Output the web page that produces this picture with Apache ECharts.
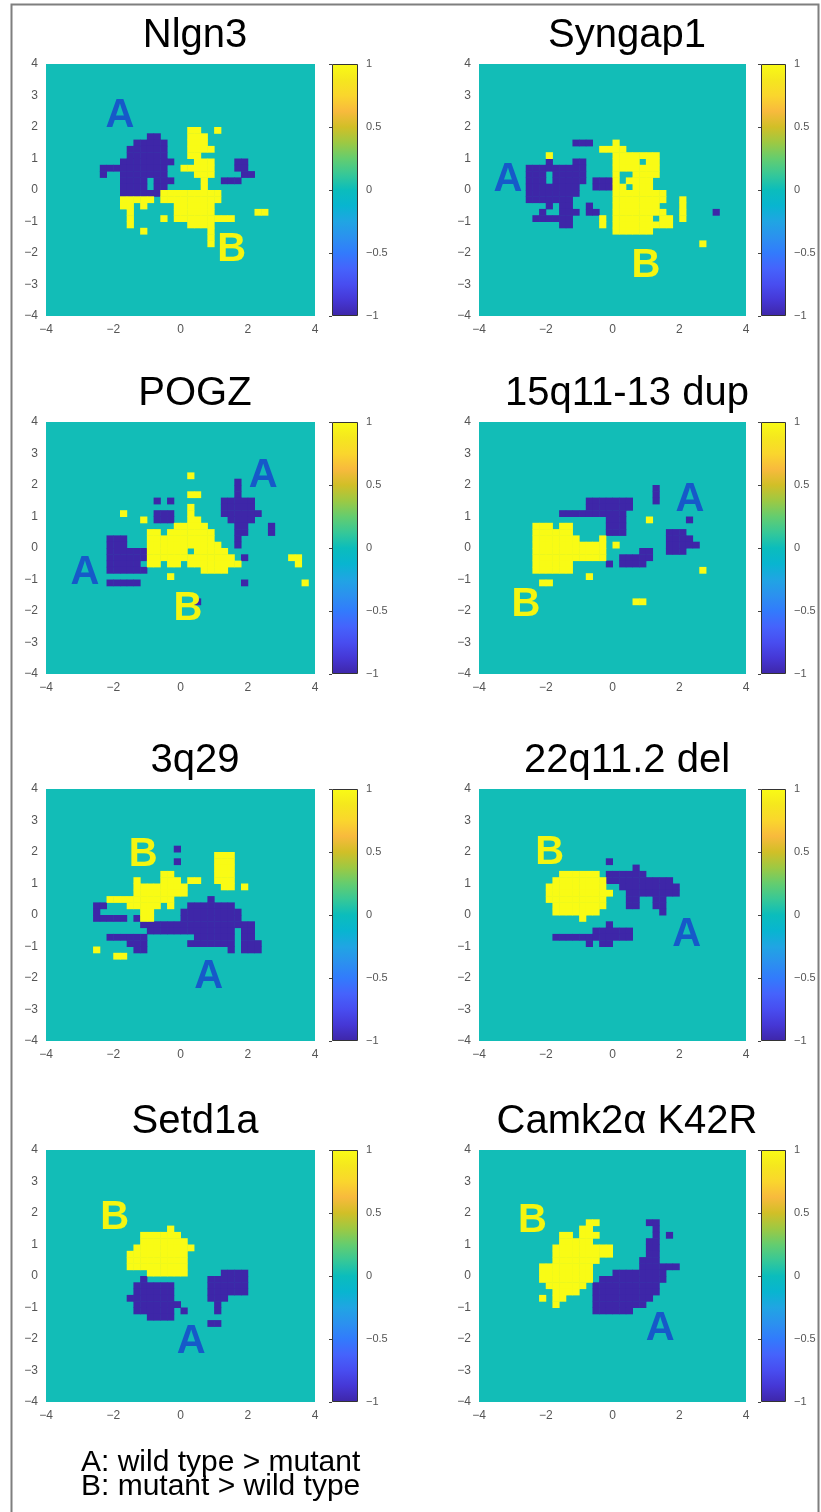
<!DOCTYPE html>
<html><head><meta charset="utf-8">
<script src="https://cdn.jsdelivr.net/npm/echarts@6/dist/echarts.min.js"></script>
<style>html,body{margin:0;padding:0;background:#fff}#c{width:821px;height:1512px}</style>
</head><body><div id="c"></div>
<script>
// ---------- data ----------
const titles = ['Nlgn3', 'Syngap1', 'POGZ', '15q11-13 dup', '3q29', '22q11.2 del', 'Setd1a', 'Camk2α K42R'];
const xTicks = [-4, -2, 0, 2, 4];
const yTicks = [-4, -3, -2, -1, 0, 1, 2, 3, 4];
const barTicks = [-1, -0.5, 0, 0.5, 1];
const bottomNotes = ['A: wild type > mutant', 'B: mutant > wild type'];
// grid cells: [row from top, first column, last column], 40x40 cells of 0.2 over [-4,4]
const nlgn3A = [[11,15,16],[12,13,17],[13,12,17],[14,12,17],[15,11,18],[15,28,29],[16,8,17],[16,28,29],[17,8,8],[17,11,17],[17,29,30],[18,11,14],[18,16,18],[18,26,28],[19,11,14],[19,16,17],[20,11,16]];
const nlgn3B = [[10,21,22],[10,25,25],[11,21,23],[12,21,23],[13,21,24],[14,21,22],[15,22,24],[16,20,24],[17,22,24],[18,23,23],[19,23,23],[20,17,25],[21,11,15],[21,17,25],[22,11,12],[22,14,14],[22,19,24],[23,12,12],[23,19,24],[23,31,32],[24,12,12],[24,17,17],[24,19,27],[25,12,12],[25,21,24],[26,14,14],[26,24,24],[27,24,24],[28,24,24]];
const nlgn3Letters = [['A', -1.8, 2.35], ['B', 1.52, -1.89]];
const syngap1A = [[12,14,16],[15,10,10],[15,14,15],[16,7,15],[17,7,9],[17,11,15],[18,7,9],[18,11,15],[18,17,19],[19,7,14],[19,17,19],[20,7,14],[21,7,13],[22,10,10],[22,12,13],[22,16,16],[23,9,9],[23,12,14],[23,16,17],[23,35,35],[24,8,13],[25,12,13]];
const syngap1B = [[12,20,20],[13,18,21],[14,10,10],[14,20,26],[15,20,23],[15,25,26],[16,20,26],[17,20,20],[17,23,26],[18,20,20],[18,22,25],[19,20,21],[19,23,25],[20,20,27],[21,20,27],[21,30,30],[22,20,26],[22,30,30],[23,20,27],[23,30,30],[24,18,18],[24,20,25],[24,27,28],[24,30,30],[25,18,18],[25,20,28],[26,20,25],[28,33,33]];
const syngap1Letters = [['A', -3.13, 0.33], ['B', 1.0, -2.42]];
const pogzA = [[9,28,28],[10,28,28],[11,28,28],[12,16,16],[12,18,18],[12,26,30],[13,26,30],[14,16,18],[14,26,31],[15,16,18],[15,27,30],[16,28,29],[16,33,33],[17,28,29],[17,33,33],[18,9,11],[18,28,28],[19,9,11],[19,28,28],[20,9,14],[21,9,14],[21,29,29],[22,9,13],[23,9,14],[25,9,13],[25,29,29],[28,22,22]];
const pogzB = [[8,21,21],[11,21,22],[13,21,21],[14,11,11],[14,21,21],[15,14,14],[15,21,22],[16,19,23],[17,15,16],[17,18,24],[18,15,24],[19,15,25],[20,15,20],[20,22,26],[21,15,27],[21,36,37],[22,15,16],[22,18,19],[22,21,28],[22,37,37],[23,23,26],[24,18,18],[25,38,38]];
const pogzLetters = [['A', -2.84, -0.78], ['A', 2.46, 2.29], ['B', 0.22, -1.95]];
const dupA = [[10,26,26],[11,26,26],[12,16,22],[12,26,26],[13,16,22],[14,12,21],[15,19,21],[15,31,31],[16,19,21],[17,19,21],[17,28,30],[18,28,31],[19,28,32],[20,24,25],[20,28,30],[21,21,25],[22,19,19],[22,21,24]];
const dupB = [[15,25,25],[16,8,10],[16,12,13],[17,8,13],[18,8,14],[18,18,18],[19,8,18],[19,20,20],[20,8,18],[21,8,18],[22,8,13],[23,8,13],[23,33,33],[24,16,16],[25,9,10],[28,23,24]];
const dupLetters = [['A', 2.32, 1.51], ['B', -2.59, -1.82]];
const q29A = [[9,19,19],[11,19,19],[17,24,24],[18,7,8],[18,21,27],[19,7,7],[19,20,28],[20,7,11],[20,13,13],[20,20,28],[21,14,30],[22,15,27],[22,29,30],[23,9,14],[23,22,27],[23,29,30],[24,12,14],[24,21,27],[24,29,31],[25,13,14],[25,27,27],[25,29,31]];
const q29B = [[10,25,27],[11,25,27],[12,25,27],[13,17,18],[13,25,27],[14,13,13],[14,17,19],[14,21,22],[14,25,27],[15,13,20],[15,26,27],[15,29,29],[16,13,20],[17,9,18],[18,12,16],[18,18,18],[19,14,15],[20,14,15],[25,7,7],[26,10,11]];
const q29Letters = [['B', -1.11, 1.92], ['A', 0.84, -1.98]];
const q22A = [[11,19,19],[12,23,23],[13,19,24],[14,19,28],[15,21,29],[16,22,29],[17,22,23],[17,26,27],[18,22,23],[18,26,27],[19,27,27],[21,19,19],[22,17,22],[23,11,22],[24,16,16],[24,18,19]];
const q22B = [[13,12,17],[14,11,18],[15,10,18],[16,10,19],[17,10,18],[18,11,18],[19,11,17],[20,15,15]];
const q22Letters = [['B', -1.88, 1.96], ['A', 2.22, -0.63]];
const setd1aA = [[19,26,29],[20,14,14],[20,24,29],[21,13,18],[21,24,29],[22,13,18],[22,24,29],[23,12,18],[23,24,26],[24,13,19],[24,25,25],[25,13,18],[25,20,20],[25,25,25],[26,15,18],[27,24,25]];
const setd1aB = [[12,18,18],[13,14,19],[14,14,20],[15,13,21],[16,12,20],[17,12,20],[18,12,20],[19,15,20]];
const setd1aLetters = [['B', -1.96, 1.83], ['A', 0.32, -2.08]];
const camkA = [[11,25,26],[12,26,26],[13,26,26],[13,28,28],[14,25,26],[15,25,26],[16,25,26],[17,24,26],[18,24,29],[19,20,27],[20,18,27],[21,17,26],[22,17,26],[23,17,25],[24,17,24],[25,17,22]];
const camkB = [[11,16,17],[12,15,16],[13,12,13],[13,15,17],[14,12,16],[15,11,19],[16,11,19],[17,11,17],[18,9,16],[19,9,16],[20,9,16],[21,10,15],[22,11,14],[23,9,9],[23,11,12],[24,11,11]];
const camkLetters = [['B', -2.40, 1.74], ['A', 1.43, -1.68]];

// ---------- styling / layout ----------
const CELL = 0.2, GMIN = -4, GMAX = 4;
const BLUE = '#3e26a8', YELLOW = '#f9fb15', TEAL = '#12bdb7';
const LETTER_COLORS = { A: '#1659c9', B: '#f5f510' };
const PARULA = ['#3e26a8','#4537d5','#484df0','#4563fc','#327bfc','#2b91ef','#20a5e3','#08b5d0','#0bbdbc','#37c897','#64cd6f','#9dc943','#d1bf27','#f8ba3d','#fad62d','#f5e71e','#f9fb15'];
const COLS = [{ plot: 46, pw: 269, bar: 332, bw: 26, tx: 195 }, { plot: 479, pw: 267, bar: 761, bw: 25, tx: 627 }];
const ROW_TOPS = [64, 422, 789, 1150];
const PH = 252;
const FONT = '"Liberation Sans", Arial, sans-serif';
const fmt = v => (v < 0 ? '\u2212' + Math.abs(v) : String(v));

const panels = [
  [nlgn3A, nlgn3B, nlgn3Letters], [syngap1A, syngap1B, syngap1Letters],
  [pogzA, pogzB, pogzLetters], [dupA, dupB, dupLetters],
  [q29A, q29B, q29Letters], [q22A, q22B, q22Letters],
  [setd1aA, setd1aB, setd1aLetters], [camkA, camkB, camkLetters]
];

function expand(runs, v) {
  const out = [];
  runs.forEach(([r, c0, c1]) => { for (let c = c0; c <= c1; c++) out.push([GMIN + c * CELL, GMAX - r * CELL, v]); });
  return out;
}

const grid = [], xAxis = [], yAxis = [], series = [], graphic = [];
const labelStyle = { color: '#555', fontSize: 12, fontFamily: FONT, formatter: fmt, showMinLabel: true, showMaxLabel: true };

panels.forEach(([A, B, letters], i) => {
  const col = COLS[i % 2], top = ROW_TOPS[Math.floor(i / 2)];
  const gi = grid.length;
  grid.push({ left: col.plot, top: top, width: col.pw, height: PH, show: true, backgroundColor: TEAL, borderWidth: 0, containLabel: false, outerBoundsMode: 'none' });
  xAxis.push({ gridIndex: gi, type: 'value', min: xTicks[0], max: xTicks[xTicks.length - 1], interval: xTicks[1] - xTicks[0],
    axisLine: { show: false }, axisTick: { show: false }, splitLine: { show: false }, axisLabel: Object.assign({ margin: 8 }, labelStyle) });
  yAxis.push({ gridIndex: gi, type: 'value', min: yTicks[0], max: yTicks[yTicks.length - 1], interval: yTicks[1] - yTicks[0],
    axisLine: { show: false }, axisTick: { show: false }, splitLine: { show: false }, axisLabel: Object.assign({ margin: 8 }, labelStyle) });
  series.push({
    type: 'custom', xAxisIndex: gi, yAxisIndex: gi, coordinateSystem: 'cartesian2d', silent: true, animation: false,
    data: expand(A, -1).concat(expand(B, 1)), encode: { x: 0, y: 1 },
    renderItem: (params, api) => {
      const x = api.value(0), y = api.value(1), v = api.value(2);
      const p1 = api.coord([x, y]), p2 = api.coord([x + CELL, y - CELL]);
      return { type: 'rect', shape: { x: p1[0], y: p1[1], width: p2[0] - p1[0] + 0.5, height: p2[1] - p1[1] + 0.5 },
        style: { fill: v > 0 ? YELLOW : BLUE } };
    }
  });
  series.push({
    type: 'custom', xAxisIndex: gi, yAxisIndex: gi, coordinateSystem: 'cartesian2d', silent: true, animation: false, z: 5,
    data: letters.map(l => [l[1], l[2]]), encode: { x: 0, y: 1 },
    renderItem: (params, api) => {
      const p = api.coord([api.value(0), api.value(1)]);
      const t = letters[params.dataIndex][0];
      return { type: 'text', x: p[0], y: p[1], style: { text: t, fill: LETTER_COLORS[t], font: 'bold 40px ' + FONT,
        align: 'center', verticalAlign: 'middle', textAlign: 'center', textVerticalAlign: 'middle' } };
    }
  });
  // colorbar
  const bi = grid.length;
  grid.push({ left: col.bar, top: top, width: col.bw, height: PH, show: false, containLabel: false, outerBoundsMode: 'none' });
  xAxis.push({ gridIndex: bi, type: 'value', min: 0, max: 1, show: false });
  yAxis.push({ gridIndex: bi, type: 'value', position: 'right', min: barTicks[0], max: barTicks[barTicks.length - 1], interval: barTicks[1] - barTicks[0],
    axisLine: { show: false }, splitLine: { show: false }, axisTick: { show: true, inside: true, length: 3, lineStyle: { color: '#444', width: 1 } },
    axisLabel: Object.assign({ margin: 8 }, labelStyle, { fontSize: 11 }), z: 10 });
  series.push({
    type: 'custom', xAxisIndex: bi, yAxisIndex: bi, coordinateSystem: 'cartesian2d', silent: true, animation: false,
    data: [[0, barTicks[barTicks.length - 1], 1, barTicks[0]]], encode: { x: [0, 2], y: [1, 3] },
    renderItem: (params, api) => {
      const p1 = api.coord([api.value(0), api.value(1)]), p2 = api.coord([api.value(2), api.value(3)]);
      const stops = PARULA.map((c, k) => ({ offset: k / (PARULA.length - 1), color: c }));
      return { type: 'rect', shape: { x: p1[0] + 0.5, y: p1[1] + 0.5, width: p2[0] - p1[0] - 1, height: p2[1] - p1[1] - 1 },
        style: { fill: new echarts.graphic.LinearGradient(0, 1, 0, 0, stops), stroke: '#333', lineWidth: 1 } };
    }
  });
  graphic.push({ type: 'text', x: col.tx, y: top - 28, style: { text: titles[i], font: '40px ' + FONT, fill: '#000',
    align: 'center', verticalAlign: 'middle', textAlign: 'center', textVerticalAlign: 'middle' } });
});

graphic.push({ type: 'rect', shape: { x: 11.5, y: 4.5, width: 807, height: 1540 }, style: { fill: 'none', stroke: '#7f7f7f', lineWidth: 2 }, silent: true });
bottomNotes.forEach((t, k) => {
  graphic.push({ type: 'text', x: 81, y: 1463 + k * 24, style: { text: t, font: '30px ' + FONT, fill: '#000',
    align: 'left', verticalAlign: 'middle', textAlign: 'left', textVerticalAlign: 'middle' } });
});

const chart = echarts.init(document.getElementById('c'), null, { renderer: 'canvas', width: 821, height: 1512 });
chart.setOption({ animation: false, backgroundColor: '#fff', grid, xAxis, yAxis, series, graphic });
</script>
</body></html>
